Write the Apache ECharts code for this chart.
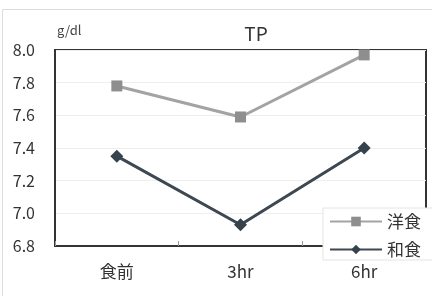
<!DOCTYPE html>
<html>
<head>
<meta charset="utf-8">
<script src="https://cdn.jsdelivr.net/npm/echarts@6/dist/echarts.min.js"></script>
<style>
  html, body { margin: 0; padding: 0; background: #fff; }
  #chart { width: 432px; height: 296px; }
</style>
</head>
<body>
<div id="chart"></div>
<script>
// 基本データ
var categories = ['食前', '3hr', '6hr'];
var western = [7.78, 7.59, 7.97];   // 洋食
var japanese = [7.35, 6.93, 7.40];  // 和食
var yTicks = [6.8, 8.0, 0.2];       // min, max, interval

var myChart = echarts.init(document.getElementById('chart'));
var font = '"Noto Sans CJK JP", "Noto Sans", sans-serif';

var option = {
    animation: false,
    backgroundColor: '#fff',
    textStyle: { fontFamily: font },
    title: {
        text: 'TP',
        left: 251,
        top: 19,
        textAlign: 'center',
        textStyle: { fontSize: 19, fontWeight: 'normal', color: '#333', fontFamily: font }
    },
    graphic: [{
        type: 'rect',
        shape: { x: 2.5, y: 9.5, width: 432, height: 290 },
        style: { fill: 'none', stroke: '#ddd', lineWidth: 1 },
        silent: true
    }, {
        type: 'text',
        left: 57,
        top: 24,
        style: { text: 'g/dl', fontSize: 13, fill: '#444', fontFamily: font }
    }],
    legend: {
        data: ['洋食', '和食'],
        orient: 'vertical',
        left: 323,
        top: 208,
        itemGap: 11,
        itemWidth: 52,
        itemHeight: 12,
        padding: [5, 12, 2, 6],
        backgroundColor: '#fff',
        borderColor: '#e4e4e4',
        borderWidth: 1,
        textStyle: { fontSize: 17, color: '#333', fontFamily: font },
        z: 10
    },
    grid: {
        left: 55,
        right: 6,
        top: 50,
        bottom: 50,
        show: true,
        borderColor: '#333',
        borderWidth: 2,
        containLabel: false
    },
    xAxis: {
        type: 'category',
        data: categories,
        axisLine: { lineStyle: { color: '#333', width: 2 } },
        axisTick: { show: true, inside: true, length: 5, lineStyle: { color: '#999' } },
        axisLabel: { fontSize: 17, color: '#333', margin: 17 }
    },
    yAxis: {
        type: 'value',
        min: yTicks[0],
        max: yTicks[1],
        interval: yTicks[2],
        axisLine: { show: true, lineStyle: { color: '#333', width: 2 } },
        axisTick: { show: false },
        axisLabel: {
            fontSize: 16, color: '#333', margin: 20,
            formatter: function (v) { return v.toFixed(1); }
        },
        splitLine: { show: true, lineStyle: { color: '#eee', width: 1 } }
    },
    series: [{
        name: '洋食',
        type: 'line',
        data: western,
        symbol: 'rect',
        symbolSize: 11,
        lineStyle: { color: '#a3a3a3', width: 3 },
        itemStyle: { color: '#8e8e8e' }
    }, {
        name: '和食',
        type: 'line',
        data: japanese,
        symbol: 'diamond',
        symbolSize: 13,
        lineStyle: { color: '#3d4852', width: 3 },
        itemStyle: { color: '#36424c' }
    }]
};

myChart.setOption(option);
</script>
</body>
</html>
